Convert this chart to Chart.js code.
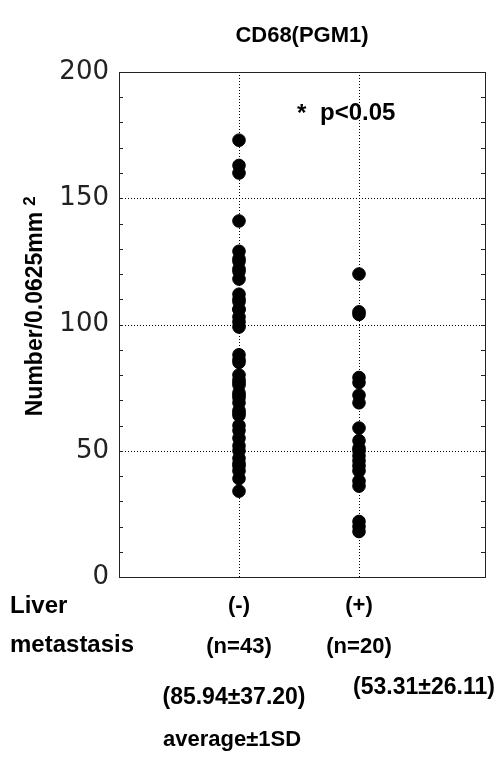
<!DOCTYPE html>
<html><head><meta charset="utf-8">
<script src="https://cdn.jsdelivr.net/npm/chart.js@4"></script>
<style>html,body{margin:0;padding:0;background:#fff}canvas{display:block}</style>
</head><body>
<canvas id="c" width="503" height="762"></canvas>
<script>
const categories = ["(-)", "(+)"];
const groupCounts = ["(n=43)", "(n=20)"];
const groupMeans = ["(85.94±37.20)", "(53.31±26.11)"];
const negValues = [173,163,160,141,129,126,125,122,121,118,112,110,109,106,106,103,101,99,88,86,85,80,78,77,76,73,72,71,69,66,65,64,60,58,55,52,50,47,45,44,42,39,34];
const posValues = [120,105,104,79,77,72,69,59,54,51,50,48,46,44,42,38,36,22,20,18];
const yTicks = [0,50,100,150,200];
const gridY = [50,100,150];
const titleText = "CD68(PGM1)";
const yTitle = "Number/0.0625mm";

const BOLD = "'Liberation Sans', Arial, sans-serif";

const decor = {
  id: 'decor',
  beforeDatasetsDraw(chart) {
    const {ctx, chartArea: a, scales: {x, y}} = chart;
    ctx.save();
    ctx.strokeStyle = '#000';
    ctx.lineWidth = 1;
    ctx.setLineDash([1, 2]);
    gridY.forEach(v => {
      const py = Math.round(y.getPixelForValue(v)) + 0.5;
      ctx.beginPath(); ctx.moveTo(a.left, py); ctx.lineTo(a.right, py); ctx.stroke();
    });
    [1, 2].forEach(v => {
      const px = Math.round(x.getPixelForValue(v)) + 0.5;
      ctx.beginPath(); ctx.moveTo(px, a.top); ctx.lineTo(px, a.bottom); ctx.stroke();
    });
    ctx.setLineDash([]);
    ctx.strokeStyle = '#222';
    ctx.strokeRect(Math.round(a.left) + 0.5, Math.round(a.top) + 0.5, Math.round(a.right - a.left), Math.round(a.bottom - a.top));
    for (let v = 10; v < 200; v += 10) {
      const py = Math.round(y.getPixelForValue(v)) + 0.5;
      ctx.beginPath();
      ctx.moveTo(a.left, py); ctx.lineTo(a.left + 4, py);
      ctx.moveTo(a.right, py); ctx.lineTo(a.right - 4, py);
      ctx.stroke();
    }
    ctx.restore();
  },
  afterDraw(chart) {
    const {ctx} = chart;
    ctx.save();
    ctx.fillStyle = '#000';
    ctx.textAlign = 'center';
    ctx.textBaseline = 'middle';
    ctx.font = "bold 22px " + BOLD;
    ctx.fillText(titleText, 302, 36);
    ctx.font = "bold 24px " + BOLD;
    ctx.textAlign = 'left';
    ctx.fillText("*", 297, 114);
    ctx.fillText("p<0.05", 320, 113);
    ctx.save();
    ctx.translate(36, 314);
    ctx.rotate(-Math.PI / 2);
    ctx.font = "bold 23px " + BOLD;
    ctx.textAlign = 'center';
    ctx.fillText(yTitle, 0, 0);
    const w = ctx.measureText(yTitle).width;
    ctx.font = "bold 17px " + BOLD;
    ctx.textAlign = 'left';
    ctx.fillText("2", w / 2 + 6, -6);
    ctx.restore();
    ctx.font = "bold 24px " + BOLD;
    ctx.textAlign = 'left';
    ctx.fillText("Liver", 10, 606);
    ctx.fillText("metastasis", 10, 645);
    ctx.textAlign = 'center';
    ctx.font = "bold 23px " + BOLD;
    ctx.fillText(groupMeans[0], 234, 698);
    ctx.fillText(groupMeans[1], 424, 688);
    ctx.font = "bold 22px " + BOLD;
    ctx.fillText("average±1SD", 232, 740);
    ctx.restore();
  }
};

new Chart(document.getElementById('c'), {
  type: 'scatter',
  data: {
    datasets: [
      { data: negValues.map(v => ({x: 1, y: v})), backgroundColor: '#000', borderColor: '#000', pointRadius: 6.3, pointHoverRadius: 6.3 },
      { data: posValues.map(v => ({x: 2, y: v})), backgroundColor: '#000', borderColor: '#000', pointRadius: 6.3, pointHoverRadius: 6.3 }
    ]
  },
  options: {
    responsive: false,
    animation: false,
    events: [],
    layout: { padding: { top: 72, right: 18, left: 0, bottom: 0 } },
    plugins: { legend: { display: false }, tooltip: { enabled: false } },
    scales: {
      x: {
        type: 'linear', min: 0, max: 3.05,
        grid: { display: false, drawTicks: false }, border: { display: false },
        afterBuildTicks: s => { s.ticks = [{value: 1}, {value: 2}]; },
        afterFit: s => { s.height = 185; },
        ticks: {
          autoSkip: false, maxRotation: 0, padding: 8, color: '#000',
          font: { family: BOLD, size: 22, weight: 'bold', lineHeight: 1.88 },
          callback: v => [categories[v - 1], groupCounts[v - 1]]
        }
      },
      y: {
        min: 0, max: 200,
        grid: { display: false, drawTicks: false }, border: { display: false },
        afterBuildTicks: s => { s.ticks = yTicks.map(v => ({value: v})); },
        afterFit: s => { s.width = 119; },
        ticks: { padding: 10, color: '#222', font: { family: "'DejaVu Sans'", size: 26 } }
      }
    }
  },
  plugins: [decor]
});
</script>
</body></html>
